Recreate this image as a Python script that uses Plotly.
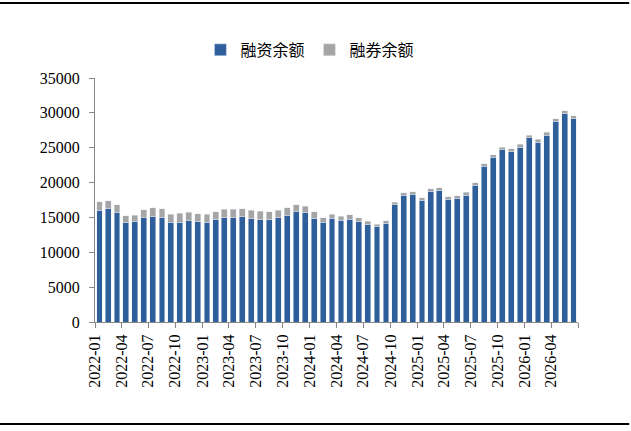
import plotly.graph_objects as go

# 月份
months = [f"{y}-{m:02d}" for y in range(2022, 2027) for m in range(1, 13)][:54]
tick_months = months[::3] + ["2026-07"]
tick_text = months[::3] + [""]

# 融资余额（亿元）
rz = [16050, 16240, 15710, 14220, 14370, 14940, 15130, 14990, 14320, 14320,
      14560, 14370, 14320, 14750, 14990, 14990, 15080, 14800, 14700, 14660,
      14940, 15330, 15800, 15660, 14890, 14320, 14860, 14610, 14750, 14370,
      13980, 13650, 14130, 16810, 18150, 18340, 17480, 18780, 18920, 17630,
      17770, 18200, 19590, 22320, 23660, 24710, 24430, 25100, 26440, 25760,
      26820, 28780, 29890, 29120]

# 融券余额（亿元）
rq = [1190, 1150, 1100, 1010, 960, 1150, 1250, 1250, 1150, 1250,
      1200, 1150, 1150, 1100, 1200, 1200, 1200, 1200, 1200, 1150,
      1060, 1090, 1010, 960, 920, 620, 630, 570, 620, 570,
      480, 380, 380, 380, 380, 340, 340, 330, 330, 330,
      330, 380, 380, 380, 330, 390, 430, 380, 380, 430,
      430, 390, 430, 480]

num_font = "Liberation Serif, Times New Roman, serif"
cjk_font = "Noto Sans CJK SC"

fig = go.Figure()
fig.add_trace(go.Bar(x=months, y=rz, name="融资余额", marker_color="#2F5F9A",
                     xperiod="M1", xperiodalignment="middle"))
fig.add_trace(go.Bar(x=months, y=rq, name="融券余额", marker_color="#A5A5A5",
                     xperiod="M1", xperiodalignment="middle"))

fig.update_layout(
    barmode="stack",
    bargap=0.33,
    width=631, height=431,
    margin=dict(l=95, r=53, t=78, b=109, autoexpand=False),
    plot_bgcolor="white", paper_bgcolor="white",
    font=dict(family=num_font, size=16, color="black"),
    showlegend=True,
    legend=dict(orientation="h", x=0.445, xanchor="center", y=1.115, yanchor="middle",
                font=dict(family=cjk_font, size=16), itemwidth=30,
                traceorder="normal"),
    shapes=[
        dict(type="line", xref="paper", yref="paper", x0=-0.2, x1=1.106, y0=1.307, y1=1.307,
             line=dict(color="black", width=2)),
        dict(type="line", xref="paper", yref="paper", x0=-0.2, x1=1.106, y0=-0.418, y1=-0.418,
             line=dict(color="black", width=2)),
    ],
)

fig.update_xaxes(
    type="date",
    range=["2022-01-01", "2026-07-01"],
    tickvals=tick_months, ticktext=tick_text,
    tickangle=-90,
    ticks="outside", ticklen=5, tickcolor="#888888",
    showline=True, linecolor="#888888", linewidth=1,
    showgrid=False, automargin=False,
    tickfont=dict(family=num_font, size=16),
)
fig.update_yaxes(
    range=[0, 35000], dtick=5000, tickformat="d",
    ticks="outside", ticklen=5, tickcolor="#888888",
    showline=True, linecolor="#888888", linewidth=1,
    showgrid=False, zeroline=False, automargin=False,
    ticklabelstandoff=6,
    tickfont=dict(family=num_font, size=16),
)

# 去掉页面默认边距
fig.write_html("out.html", config={"displayModeBar": False},
               post_script="document.body.style.margin='0';")
